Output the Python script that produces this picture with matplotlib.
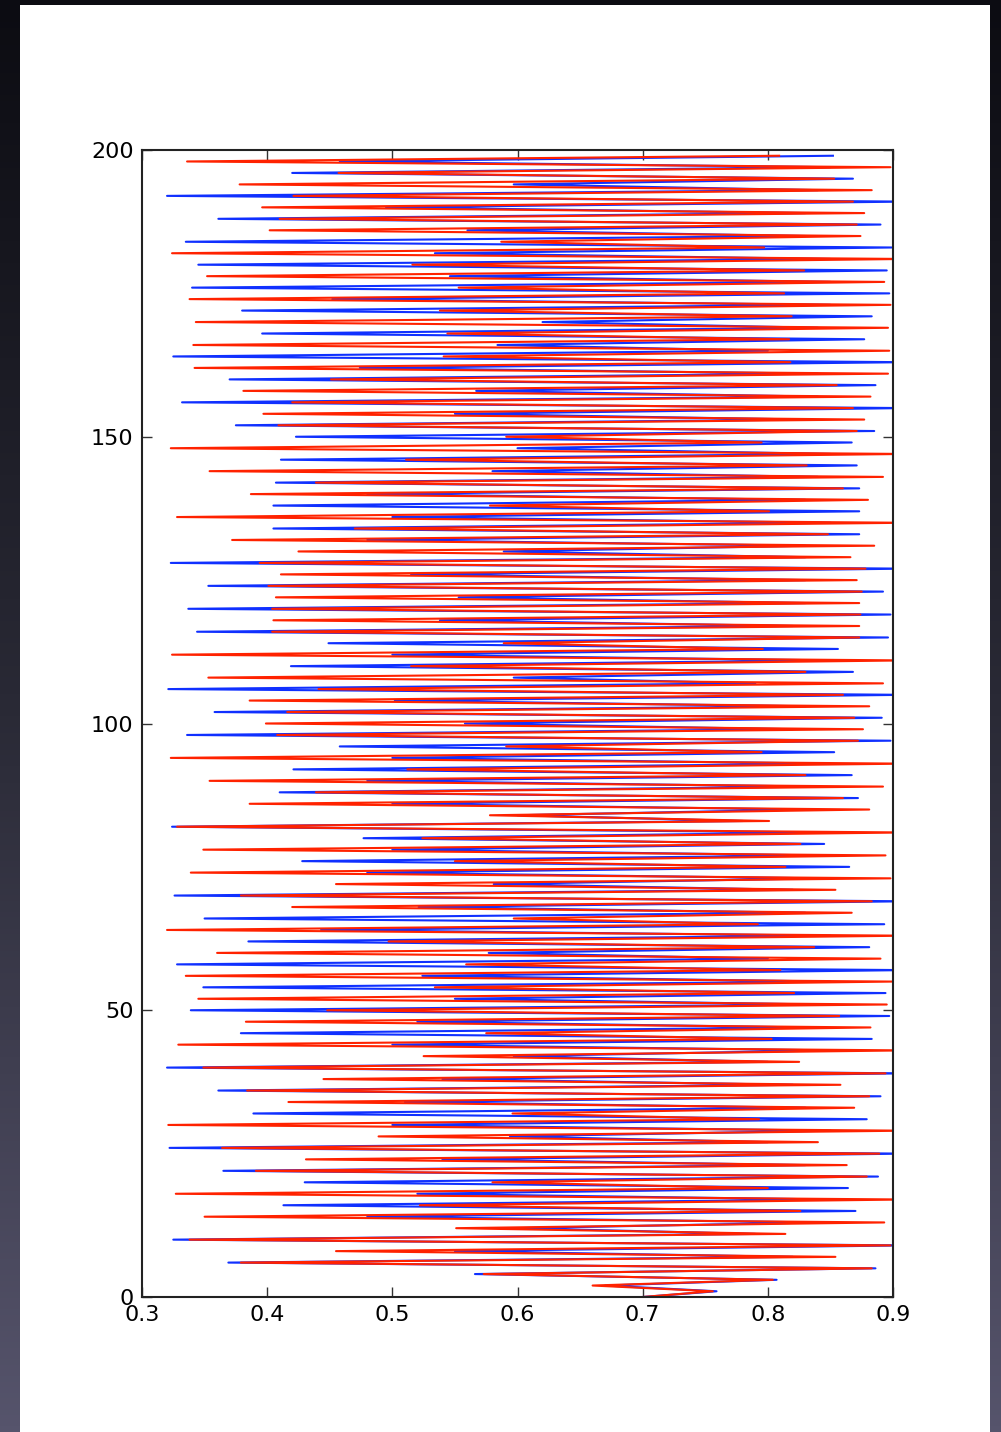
import numpy as np
import matplotlib
matplotlib.use("Agg")
import matplotlib.pyplot as plt
from matplotlib.patches import Rectangle

# Left tips (even y = 0, 2, ..., 198)
red_left = [0.700, 0.660, 0.573, 0.379, 0.455, 0.338, 0.551, 0.350, 0.522, 0.327,
            0.580, 0.391, 0.431, 0.364, 0.489, 0.321, 0.596, 0.417, 0.384, 0.445,
            0.349, 0.525, 0.329, 0.575, 0.383, 0.448, 0.345, 0.534, 0.335, 0.559,
            0.360, 0.497, 0.320, 0.597, 0.420, 0.379, 0.455, 0.339, 0.550, 0.349,
            0.524, 0.328, 0.578, 0.386, 0.439, 0.354, 0.512, 0.323, 0.591, 0.408,
            0.399, 0.416, 0.386, 0.441, 0.353, 0.515, 0.324, 0.589, 0.404, 0.405,
            0.404, 0.407, 0.401, 0.411, 0.394, 0.425, 0.372, 0.470, 0.328, 0.578,
            0.387, 0.439, 0.354, 0.511, 0.323, 0.591, 0.409, 0.397, 0.420, 0.381,
            0.451, 0.342, 0.541, 0.341, 0.544, 0.343, 0.538, 0.338, 0.553, 0.352,
            0.516, 0.324, 0.587, 0.402, 0.410, 0.396, 0.421, 0.378, 0.457, 0.336]
blue_left = [0.700, 0.670, 0.566, 0.369, 0.550, 0.325, 0.600, 0.480, 0.413, 0.520,
             0.430, 0.365, 0.540, 0.322, 0.594, 0.500, 0.389, 0.510, 0.361, 0.540,
             0.320, 0.597, 0.500, 0.379, 0.520, 0.339, 0.550, 0.349, 0.524, 0.328,
             0.577, 0.385, 0.443, 0.350, 0.521, 0.326, 0.581, 0.480, 0.428, 0.500,
             0.477, 0.324, 0.600, 0.500, 0.410, 0.480, 0.421, 0.500, 0.458, 0.336,
             0.558, 0.358, 0.502, 0.321, 0.597, 0.419, 0.500, 0.449, 0.344, 0.538,
             0.337, 0.553, 0.353, 0.515, 0.323, 0.589, 0.480, 0.405, 0.500, 0.405,
             0.480, 0.407, 0.580, 0.411, 0.600, 0.423, 0.375, 0.550, 0.332, 0.567,
             0.370, 0.474, 0.325, 0.584, 0.396, 0.620, 0.380, 0.452, 0.340, 0.546,
             0.345, 0.534, 0.335, 0.560, 0.361, 0.495, 0.320, 0.597, 0.420, 0.458]

# Right tips (odd y = 1, 3, ..., 199)
red_right = [0.756, 0.804, 0.883, 0.854, 0.898, 0.814, 0.893, 0.826, 0.910, 0.800,
             0.879, 0.863, 0.889, 0.840, 0.910, 0.793, 0.869, 0.881, 0.858, 0.894,
             0.825, 0.910, 0.803, 0.882, 0.857, 0.895, 0.821, 0.899, 0.810, 0.890,
             0.837, 0.910, 0.792, 0.867, 0.883, 0.854, 0.898, 0.814, 0.894, 0.826,
             0.910, 0.801, 0.881, 0.860, 0.892, 0.830, 0.910, 0.795, 0.872, 0.876,
             0.869, 0.881, 0.860, 0.892, 0.830, 0.910, 0.796, 0.873, 0.873, 0.874,
             0.873, 0.875, 0.871, 0.878, 0.866, 0.885, 0.848, 0.910, 0.801, 0.880,
             0.860, 0.892, 0.831, 0.910, 0.795, 0.871, 0.877, 0.868, 0.882, 0.855,
             0.896, 0.818, 0.897, 0.817, 0.896, 0.819, 0.898, 0.813, 0.893, 0.829,
             0.910, 0.797, 0.874, 0.871, 0.877, 0.868, 0.883, 0.853, 0.898, 0.809]
blue_right = [0.759, 0.807, 0.886, 0.820, 0.910, 0.790, 0.840, 0.870, 0.850, 0.864,
              0.888, 0.830, 0.910, 0.800, 0.850, 0.879, 0.830, 0.890, 0.820, 0.910,
              0.800, 0.850, 0.883, 0.830, 0.897, 0.840, 0.894, 0.850, 0.910, 0.800,
              0.881, 0.850, 0.893, 0.830, 0.910, 0.820, 0.840, 0.865, 0.840, 0.845,
              0.850, 0.780, 0.830, 0.872, 0.840, 0.867, 0.850, 0.853, 0.898, 0.820,
              0.891, 0.830, 0.910, 0.790, 0.868, 0.850, 0.856, 0.896, 0.820, 0.898,
              0.830, 0.892, 0.830, 0.910, 0.830, 0.830, 0.873, 0.850, 0.873, 0.830,
              0.873, 0.840, 0.871, 0.850, 0.867, 0.885, 0.830, 0.910, 0.840, 0.886,
              0.840, 0.910, 0.800, 0.877, 0.840, 0.883, 0.850, 0.897, 0.850, 0.895,
              0.850, 0.899, 0.830, 0.890, 0.830, 0.910, 0.840, 0.868, 0.850, 0.852]

x_ticks = [0.3, 0.4, 0.5, 0.6, 0.7, 0.8, 0.9]
y_ticks = [0, 50, 100, 150, 200]


def interleave(left, right):
    out = []
    for a, b in zip(left, right):
        out.extend([a, b])
    return np.array(out)


red_x = interleave(red_left, red_right)
blue_x = interleave(blue_left, blue_right)
y = np.arange(len(red_x))

W, H = 1001, 1432
fig = plt.figure(figsize=(W / 100, H / 100), dpi=100)

# dark screenshot-like background with gradient
bg = fig.add_axes([0, 0, 1, 1], zorder=-10)
grad = np.linspace(0, 1, 256).reshape(-1, 1)
from matplotlib.colors import LinearSegmentedColormap
cmap = LinearSegmentedColormap.from_list("bg", ["#0c0c12", "#2a2a36", "#56546c"])
bg.imshow(grad, aspect="auto", cmap=cmap, extent=[0, 1, 0, 1], origin="upper")
bg.add_patch(Rectangle((20 / W, 0), (990 - 20) / W, (H - 5) / H,
                       facecolor="white", edgecolor="none", transform=bg.transAxes))
bg.set_xlim(0, 1)
bg.set_ylim(0, 1)
bg.axis("off")

ax = fig.add_axes([142 / W, 1 - 1297 / H, (893 - 142) / W, (1297 - 150) / H])
ax.plot(blue_x, y, color="#1030ff", linewidth=1.5)
ax.plot(red_x, y, color="#ff2200", linewidth=1.5)
ax.set_xlim(0.3, 0.9)
ax.set_ylim(0, 200)
ax.set_xticks(x_ticks)
ax.set_xticklabels([f"{t:.1f}" for t in x_ticks])
ax.set_yticks(y_ticks)
ax.set_yticklabels([str(t) for t in y_ticks])
ax.tick_params(direction="in", length=7, width=1, top=True, right=True,
               labelsize=16, pad=6, color="#333333")
for s in ax.spines.values():
    s.set_linewidth(1.5)
    s.set_color("#222222")

fig.savefig("out.png", dpi=100)
